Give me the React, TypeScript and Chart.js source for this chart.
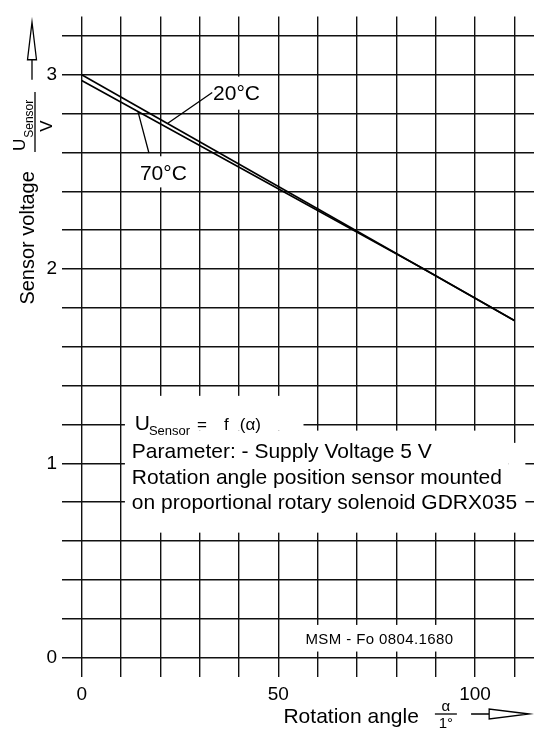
import React, { useEffect, useRef } from "react";
import { Chart, registerables } from "chart.js";

Chart.register(...registerables);

// ---- data ----
const angle20 = [0, 110];
const voltage20 = [3.0, 1.735];
const angle70 = [0, 87, 110];
const voltage70 = [2.97, 2.0, 1.735];

const xTickValues = [0, 10, 20, 30, 40, 50, 60, 70, 80, 90, 100, 110];
const xTickLabels = [0, 50, 100];
const yTickValues = [0, 0.2, 0.4, 0.6, 0.8, 1, 1.2, 1.4, 1.6, 1.8, 2, 2.2, 2.4, 2.6, 2.8, 3, 3.2];
const yTickLabels = [0, 1, 2, 3];

const FONT = '"Liberation Sans", Arial, sans-serif';
const INK = "#000";

const annotationPlugin = {
  id: "annotations",
  beforeDatasetsDraw(chart: any) {
    const { ctx } = chart;
    const xs = chart.scales.x;
    const ys = chart.scales.y;
    const px = (v: number) => xs.getPixelForValue(v);
    const py = (v: number) => ys.getPixelForValue(v);
    ctx.save();
    ctx.fillStyle = "#fff";
    const rect = (x0: number, x1: number, y0: number, y1: number) =>
      ctx.fillRect(px(x0), py(y1), px(x1) - px(x0), py(y0) - py(y1));
    rect(11, 56.4, 1.168, 1.347);
    rect(11, 108.6, 0.643, 1.168);
    rect(108.6, 112.8, 0.643, 1.105);
    rect(55.6, 99.6, 0.031, 0.168);
    rect(32.7, 47.2, 2.82, 2.99);
    rect(12.2, 28.0, 2.42, 2.58);

    ctx.fillStyle = INK;
    ctx.strokeStyle = INK;
    ctx.lineWidth = 1.3;
    // leader lines
    ctx.beginPath();
    ctx.moveTo(px(33.2), py(2.908));
    ctx.lineTo(px(21.9), py(2.75));
    ctx.moveTo(px(14.3), py(2.811));
    ctx.lineTo(px(17.1), py(2.597));
    ctx.stroke();

    ctx.font = `21px ${FONT}`;
    ctx.textBaseline = "middle";
    ctx.textAlign = "left";
    ctx.fillText("20°C", px(33.4), py(2.898));
    ctx.fillText("70°C", px(14.8), py(2.49));

    // formula
    ctx.textBaseline = "alphabetic";
    ctx.font = `21px ${FONT}`;
    ctx.fillText("U", px(13.5), py(1.173));
    ctx.font = `13px ${FONT}`;
    ctx.fillText("Sensor", px(17.1), py(1.143));
    ctx.font = `17px ${FONT}`;
    ctx.fillText("=", px(29.3), py(1.173));
    ctx.fillText("f", px(36.2), py(1.173));
    ctx.fillText("(α)", px(40.2), py(1.173));

    ctx.font = `21px ${FONT}`;
    ctx.fillText("Parameter: - Supply Voltage 5 V", px(12.76), py(1.0255));
    ctx.fillText("Rotation angle position sensor mounted", px(12.76), py(0.893));
    ctx.fillText("on proportional rotary solenoid GDRX035", px(12.76), py(0.765));

    ctx.font = `15px ${FONT}`;
    ctx.textBaseline = "middle";
    (ctx as any).letterSpacing = "0.4px";
    ctx.fillText("MSM - Fo 0804.1680", px(56.9), py(0.092));
    (ctx as any).letterSpacing = "0px";
    ctx.restore();
  },
  afterDraw(chart: any) {
    const { ctx, chartArea } = chart;
    const ys = chart.scales.y;
    const xs = chart.scales.x;
    const py = (v: number) => ys.getPixelForValue(v);
    const px = (v: number) => xs.getPixelForValue(v);
    ctx.save();
    ctx.fillStyle = INK;
    ctx.strokeStyle = INK;
    ctx.lineWidth = 1.3;

    // Y title
    ctx.save();
    ctx.translate(chartArea.left - 34, py(2.16));
    ctx.rotate(-Math.PI / 2);
    ctx.font = `20px ${FONT}`;
    ctx.textAlign = "center";
    ctx.textBaseline = "middle";
    ctx.fillText("Sensor voltage", 0, 0);
    ctx.restore();

    // Y unit fraction  U_Sensor / V
    ctx.save();
    ctx.translate(chartArea.left - 37, py(2.607));
    ctx.rotate(-Math.PI / 2);
    ctx.textAlign = "left";
    ctx.textBaseline = "alphabetic";
    ctx.font = `17px ${FONT}`;
    ctx.fillText("U", 0, 0);
    const uw = ctx.measureText("U").width;
    ctx.font = `12px ${FONT}`;
    ctx.fillText("Sensor", uw + 1, 8);
    ctx.beginPath();
    ctx.moveTo(-1, 10);
    ctx.lineTo(59, 10);
    ctx.stroke();
    ctx.font = `17px ${FONT}`;
    ctx.textAlign = "center";
    ctx.fillText("V", 25, 27);
    ctx.restore();

    // Up arrow
    const ax = chartArea.left - 30;
    const tip = py(3.27);
    const base = py(3.077);
    const tail = py(2.974);
    ctx.beginPath();
    ctx.moveTo(ax, tail);
    ctx.lineTo(ax, base);
    ctx.moveTo(ax, tip);
    ctx.lineTo(ax - 4.5, base);
    ctx.lineTo(ax + 4.5, base);
    ctx.closePath();
    ctx.stroke();

    // X title
    const by = chartArea.bottom + 46;
    ctx.font = `21px ${FONT}`;
    ctx.textAlign = "left";
    ctx.textBaseline = "alphabetic";
    ctx.fillText("Rotation angle", px(51.3), by);
    const fx = px(92.6);
    const ly = chartArea.bottom + 37;
    ctx.font = `15px ${FONT}`;
    ctx.textAlign = "center";
    ctx.fillText("α", fx, ly - 3);
    ctx.fillText("1°", fx, ly + 14);
    ctx.beginPath();
    ctx.moveTo(fx - 11, ly);
    ctx.lineTo(fx + 11, ly);
    ctx.stroke();

    // X arrow
    const x0 = px(99.0);
    const xb = px(103.6);
    const xt = px(113.8);
    ctx.beginPath();
    ctx.moveTo(x0, ly);
    ctx.lineTo(xb, ly);
    ctx.moveTo(xt, ly);
    ctx.lineTo(xb, ly - 5);
    ctx.lineTo(xb, ly + 5);
    ctx.closePath();
    ctx.stroke();
    ctx.restore();
  },
};

export default function App() {
  const ref = useRef<HTMLCanvasElement | null>(null);
  useEffect(() => {
    if (!ref.current) return;
    const tickFont = { family: FONT, size: 19 };
    const chart = new Chart(ref.current, {
      type: "line",
      data: {
        datasets: [
          {
            label: "20°C",
            data: angle20.map((a, i) => ({ x: a, y: voltage20[i] })),
            borderColor: INK,
            borderWidth: 1.6,
            pointRadius: 0,
            fill: false,
            tension: 0,
          },
          {
            label: "70°C",
            data: angle70.map((a, i) => ({ x: a, y: voltage70[i] })),
            borderColor: INK,
            borderWidth: 1.6,
            pointRadius: 0,
            fill: false,
            tension: 0,
          },
        ],
      },
      options: {
        animation: false,
        responsive: false,
        devicePixelRatio: 1,
        layout: { padding: { top: 12, left: 0, right: 0, bottom: 0 } },
        plugins: { legend: { display: false }, tooltip: { enabled: false } },
        scales: {
          x: {
            type: "linear",
            min: -5,
            max: 115,
            afterBuildTicks: (s: any) => {
              s.ticks = xTickValues.map((v) => ({ value: v }));
            },
            afterFit: (s: any) => {
              s.height = 52;
            },
            border: { display: false },
            grid: { color: "#111", lineWidth: 1.4, drawTicks: false },
            ticks: {
              autoSkip: false,
              maxRotation: 0,
              padding: 6,
              color: INK,
              font: tickFont,
              callback: (v: any) => (xTickLabels.includes(Number(v)) ? String(v) : ""),
            },
          },
          y: {
            type: "linear",
            min: -0.1,
            max: 3.3,
            afterBuildTicks: (s: any) => {
              s.ticks = yTickValues.map((v) => ({ value: v }));
            },
            afterFit: (s: any) => {
              s.width = 62;
            },
            border: { display: false },
            grid: { color: "#111", lineWidth: 1.4, drawTicks: false },
            ticks: {
              autoSkip: false,
              padding: 5,
              color: INK,
              font: tickFont,
              callback: (v: any) => (yTickLabels.includes(Number(v)) ? String(v) : ""),
            },
          },
        },
      },
      plugins: [annotationPlugin],
    } as any);
    return () => chart.destroy();
  }, []);
  return (
    <div style={{ position: "absolute", left: 0, top: 0, width: 534, height: 729, background: "#fff" }}>
      <canvas ref={ref} width={534} height={729} style={{ display: "block" }} />
    </div>
  );
}
